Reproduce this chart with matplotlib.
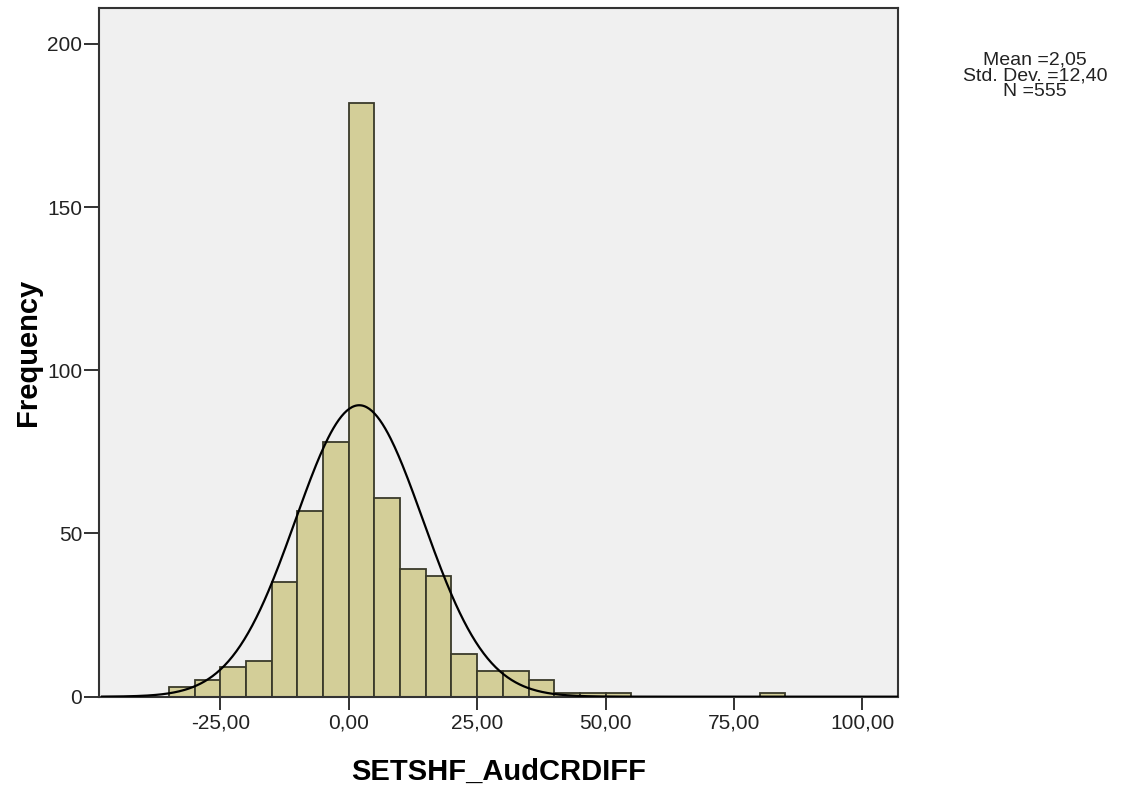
import numpy as np
import matplotlib
matplotlib.use("Agg")
import matplotlib.pyplot as plt
from matplotlib.ticker import FuncFormatter

plt.rcParams['font.family'] = ['Liberation Sans', 'DejaVu Sans']

# histogram bins (width 5) and counts
bin_left = [-35, -30, -25, -20, -15, -10, -5, 0, 5, 10, 15, 20, 25, 30, 35, 40, 45, 50, 80]
counts = [3, 5, 9, 11, 35, 57, 78, 182, 61, 39, 37, 13, 8, 8, 5, 1, 1, 1, 1]
bin_width = 5

mean = 2.05
std = 12.40
n = 555

xticks = [-25, 0, 25, 50, 75, 100]
yticks = [0, 50, 100, 150, 200]

def comma(v):
    return ("%.2f" % v).replace(".", ",")

fig = plt.figure(figsize=(11.3, 7.89), dpi=100)
ax = fig.add_axes([0.0876, 0.117, 0.7075, 0.873])
ax.set_facecolor("#f0f0f0")

ax.bar(bin_left, counts, width=bin_width, align="edge", color="#d3ce98",
       edgecolor="#3a3a2a", linewidth=1.3, zorder=2)

# normal curve scaled to counts
xs = np.linspace(-48, 107, 600)
ys = n * bin_width / (std * np.sqrt(2 * np.pi)) * np.exp(-0.5 * ((xs - mean) / std) ** 2)
ax.plot(xs, ys, color="black", linewidth=1.6, zorder=3)

ax.set_xlim(-48.6, 107.0)
ax.set_ylim(0, 211)
ax.set_xticks(xticks)
ax.set_yticks(yticks)
ax.xaxis.set_major_formatter(FuncFormatter(lambda v, p: comma(v)))
ax.tick_params(axis="both", labelsize=15, colors="#222222", width=1.3, direction="out")
ax.tick_params(axis="y", length=11, pad=1)
ax.tick_params(axis="x", length=9, pad=3)
for s in ax.spines.values():
    s.set_color("#333333")
    s.set_linewidth(1.5)

ax.set_xlabel("SETSHF_AudCRDIFF", fontsize=21, fontweight="bold", labelpad=18)
ax.set_ylabel("Frequency", fontsize=21, fontweight="bold", labelpad=4)

fig.text(0.916, 0.904, "Mean =%s\nStd. Dev. =%s\nN =%d" % (comma(mean), comma(std), n),
         ha="center", va="center", fontsize=14, linespacing=0.9, color="#222222")

fig.savefig("out.png", dpi=100)
